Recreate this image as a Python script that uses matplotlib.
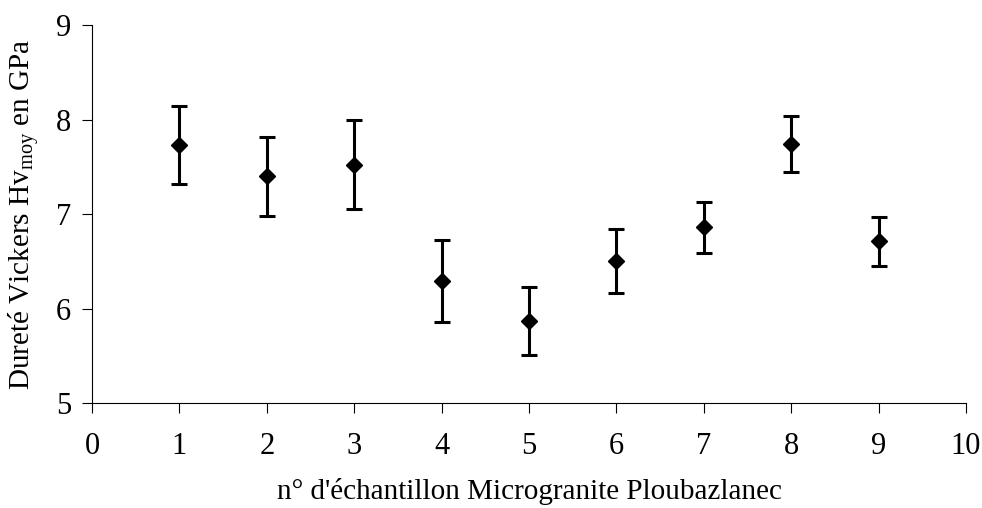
import matplotlib.pyplot as plt

plt.rcParams['font.family'] = ['Liberation Serif', 'DejaVu Serif']
plt.rcParams['mathtext.fontset'] = 'custom'
plt.rcParams['mathtext.rm'] = 'Liberation Serif'

echantillons = [1, 2, 3, 4, 5, 6, 7, 8, 9]
hv_moy = [7.73, 7.40, 7.52, 6.29, 5.87, 6.50, 6.86, 7.74, 6.71]
ecart = [0.41, 0.42, 0.47, 0.43, 0.36, 0.34, 0.27, 0.30, 0.255]

fig = plt.figure(figsize=(9.82, 5.08), dpi=100)
ax = fig.add_axes([0.0937, 0.2067, 0.89, 0.744])

ax.errorbar(echantillons, hv_moy, yerr=ecart, fmt='D', color='black',
            markersize=8, elinewidth=2.2, capsize=6, capthick=2.2)

ax.set_xlim(0, 10)
ax.set_ylim(5, 9)
ax.set_xticks(range(0, 11))
ax.set_yticks(range(5, 10))
ax.spines['top'].set_visible(False)
ax.spines['right'].set_visible(False)
for s in ['left', 'bottom']:
    ax.spines[s].set_linewidth(0.8)
ax.tick_params(axis='both', labelsize=22, length=7, width=0.8)
ax.tick_params(axis='x', pad=14)
ax.tick_params(axis='y', pad=8)

ax.set_xlabel("n° d'échantillon Microgranite Ploubazlanec", fontsize=21, labelpad=12)
ax.set_ylabel(r'Dureté Vickers Hv$_{\mathregular{moy}}$ en GPa', fontsize=21, labelpad=10)

fig.savefig('out.png', dpi=100)
